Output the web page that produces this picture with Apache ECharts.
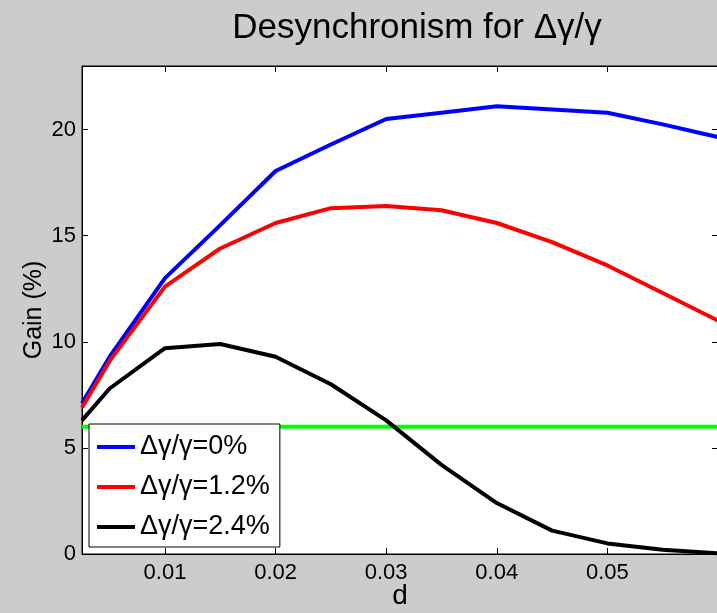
<!DOCTYPE html>
<html>
<head>
<meta charset="utf-8">
<script src="https://cdn.jsdelivr.net/npm/echarts@6/dist/echarts.min.js"></script>
<style>
html,body{margin:0;padding:0;background:#cccccc;}
#c{width:717px;height:613px;}
</style>
</head>
<body>
<div id="c"></div>
<script>
const dValues   = [0.0025, 0.005, 0.01, 0.015, 0.02, 0.025, 0.03, 0.035, 0.04, 0.045, 0.05, 0.055, 0.06];
const gain0     = [7.1, 9.3, 13.0, 15.5, 18.05, 19.3, 20.5, 20.8, 21.1, 20.95, 20.8, 20.25, 19.65];
const gain12    = [6.9, 9.1, 12.6, 14.4, 15.6, 16.3, 16.4, 16.2, 15.6, 14.7, 13.6, 12.3, 11.0];
const gain24    = [6.3, 7.8, 9.7, 9.9, 9.3, 8.0, 6.3, 4.2, 2.4, 1.1, 0.5, 0.2, 0.03];
const thresholdD = [0.0025, 0.06];
const thresholdGain = [6, 6];
const seriesNames = ['\u0394\u03b3/\u03b3=0%', '\u0394\u03b3/\u03b3=1.2%', '\u0394\u03b3/\u03b3=2.4%'];
const xTicks = [0.01, 0.02, 0.03, 0.04, 0.05];
const yTicks = [0, 5, 10, 15, 20];

const pair = (xs, ys) => xs.map((x, i) => [x, ys[i]]);
const FONT = 'Liberation Sans, Arial, Helvetica, sans-serif';

const chart = echarts.init(document.getElementById('c'), null, {renderer: 'canvas'});
const lineSeries = (name, data, color) => ({
  name, type: 'line', data, showSymbol: false, symbol: 'none',
  lineStyle: {color, width: 4}, itemStyle: {color}, z: 3, clip: true
});
chart.setOption({
  backgroundColor: '#cccccc',
  animation: false,
  title: {
    text: 'Desynchronism for \u0394\u03b3/\u03b3',
    left: 412, top: 6, textAlign: 'center',
    textStyle: {fontFamily: FONT, fontSize: 35, fontWeight: 'normal', color: '#000'}
  },
  grid: {left: 82, top: 66, width: 636, height: 488, show: true, backgroundColor: '#fff', borderColor: '#000', borderWidth: 1, containLabel: false, outerBoundsMode: 'none'},
  legend: {
    orient: 'vertical', left: 89, top: 424,
    data: seriesNames,
    icon: 'rect', itemWidth: 38, itemHeight: 4, itemGap: 0,
    backgroundColor: '#fff', borderColor: '#000', borderWidth: 1,
    padding: [3, 10, 0, 8],
    textStyle: {fontFamily: FONT, fontSize: 27, lineHeight: 40, color: '#000'}
  },
  xAxis: [{
    type: 'value', min: 0.0025, max: 0.06, position: 'bottom',
    name: 'd', nameLocation: 'middle', nameGap: 28, nameMoveOverlap: false,
    nameTextStyle: {fontFamily: FONT, fontSize: 28, color: '#000'},
    axisLine: {show: true, onZero: false, lineStyle: {color: '#000', width: 1}},
    axisTick: {show: true, inside: true, length: 6, lineStyle: {color: '#000'}, customValues: xTicks},
    axisLabel: {fontFamily: FONT, fontSize: 22, color: '#000', margin: 8, customValues: xTicks,
      formatter: v => v.toFixed(2)},
    splitLine: {show: false}
  }, {
    type: 'value', min: 0.0025, max: 0.06, position: 'top',
    axisLine: {show: true, onZero: false, lineStyle: {color: '#000', width: 1}},
    axisTick: {show: true, inside: true, length: 6, lineStyle: {color: '#000'}, customValues: xTicks},
    axisLabel: {show: false}, splitLine: {show: false}
  }],
  yAxis: [{
    type: 'value', min: 0, max: 23, position: 'left',
    name: 'Gain (%)', nameLocation: 'middle', nameGap: 35, nameMoveOverlap: false,
    nameTextStyle: {fontFamily: FONT, fontSize: 25, color: '#000'},
    axisLine: {show: true, onZero: false, lineStyle: {color: '#000', width: 1}},
    axisTick: {show: true, inside: true, length: 6, lineStyle: {color: '#000'}, customValues: yTicks},
    axisLabel: {fontFamily: FONT, fontSize: 22, color: '#000', margin: 6, customValues: yTicks},
    splitLine: {show: false}
  }, {
    type: 'value', min: 0, max: 23, position: 'right',
    axisLine: {show: true, onZero: false, lineStyle: {color: '#000', width: 1}},
    axisTick: {show: true, inside: true, length: 6, lineStyle: {color: '#000'}, customValues: yTicks},
    axisLabel: {show: false}, splitLine: {show: false}
  }],
  series: [
    {type: 'line', name: 'threshold', data: pair(thresholdD, thresholdGain), showSymbol: false, symbol: 'none',
     lineStyle: {color: '#00ff00', width: 4}, z: 2},
    lineSeries(seriesNames[0], pair(dValues, gain0), '#0000ff'),
    lineSeries(seriesNames[1], pair(dValues, gain12), '#ff0000'),
    lineSeries(seriesNames[2], pair(dValues, gain24), '#000000')
  ]
});
</script>
</body>
</html>
